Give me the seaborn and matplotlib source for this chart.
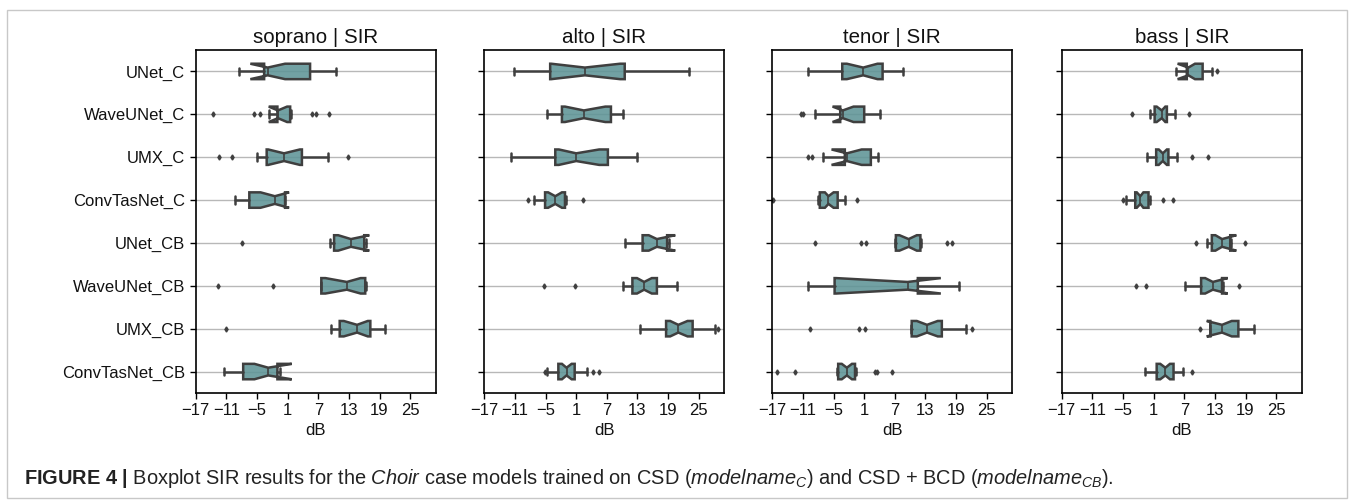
import matplotlib
matplotlib.use("Agg")
import matplotlib.pyplot as plt
import seaborn as sns
from matplotlib.patches import Rectangle

# ---------------- data (dB) ----------------
models = ["UNet_C", "WaveUNet_C", "UMX_C", "ConvTasNet_C",
          "UNet_CB", "WaveUNet_CB", "UMX_CB", "ConvTasNet_CB"]
voices = ["soprano", "alto", "tenor", "bass"]
xticks = [-17, -11, -5, 1, 7, 13, 19, 25]

# each tuple: (whislo, q1, cilo, med, cihi, q3, whishi)
soprano_stats = [(-8.6, -3.6, -6.3, -2.9, 0.5, 5.4, 10.5),
                 (-2.6, -1.0, -2.7, -0.9, 0.9, 1.5, 1.6),
                 (-4.9, -3.1, -2.8, 0.3, 3.4, 3.8, 8.9),
                 (-9.3, -6.5, -4.3, -1.5, 1.3, 0.5, 0.5),
                 (9.3, 10.1, 10.9, 13.4, 17.0, 16.0, 16.3),
                 (7.5, 7.6, 8.4, 12.6, 15.3, 16.2, 16.3),
                 (9.5, 11.2, 12.0, 14.6, 16.7, 17.2, 20.1),
                 (-11.4, -7.7, -5.5, -2.8, 1.8, -1.0, -0.4)]
soprano_fliers = [[], [-13.7, -5.6, -4.5, 5.7, 6.6, 9.1], [-12.4, -9.9, 12.9], [],
                  [-8.0], [-12.6, -1.8], [-11.1], []]

alto_stats = [(-11.2, -4.1, -3.9, 2.7, 9.6, 10.5, 23.1),
              (-4.8, -1.8, -1.2, 2.5, 6.7, 7.8, 10.1),
              (-11.8, -3.1, -2.4, 1.0, 5.5, 7.2, 12.9),
              (-7.2, -5.1, -4.5, -3.1, -1.8, -1.2, -1.0),
              (10.6, 14.0, 15.2, 16.8, 20.4, 18.8, 19.2),
              (10.1, 12.0, 12.9, 14.3, 15.8, 16.8, 20.7),
              (13.5, 18.6, 19.4, 21.0, 22.8, 23.8, 28.1),
              (-4.8, -2.5, -1.8, -0.9, 0.1, 0.7, 3.2)]
alto_fliers = [[], [], [], [-8.4, 2.3], [], [-5.4, 0.7], [28.8], [-5.2, 4.2, 5.5]]

tenor_stats = [(-10.1, -3.3, -2.4, 0.8, 3.6, 4.6, 8.5),
               (-8.6, -3.7, -5.2, -3.2, -1.1, 1.0, 4.0),
               (-7.0, -2.8, -5.4, -2.4, 0.5, 2.3, 3.7),
               (-8.0, -7.7, -6.7, -6.0, -5.0, -4.2, -2.8),
               (7.0, 7.2, 7.9, 9.7, 11.3, 12.0, 12.2),
               (-10.1, -4.8, -4.5, 9.5, 16.0, 11.5, 19.5),
               (10.1, 10.3, 11.3, 13.3, 15.4, 16.2, 21.0),
               (-4.3, -4.1, -3.4, -2.4, -1.4, -0.8, -0.6)]
tenor_fliers = [[], [-11.4, -10.9], [-10.1, -9.3], [-16.9, -0.5],
                [-8.6, 0.4, 1.4, 17.3, 18.2], [], [-9.7, 0.0, 1.2, 22.2],
                [-16.0, -12.6, 3.1, 3.6, 6.4]]

bass_stats = [(5.4, 7.5, 5.7, 7.8, 9.1, 10.6, 12.4),
              (0.3, 1.2, 1.6, 2.6, 3.3, 3.6, 5.2),
              (-0.3, 1.5, 2.0, 2.8, 3.6, 3.9, 5.5),
              (-4.5, -2.6, -2.3, -1.6, -1.0, 0.0, 0.2),
              (11.4, 12.4, 13.1, 14.4, 17.2, 16.0, 16.2),
              (7.1, 10.3, 11.1, 12.6, 15.5, 14.4, 14.6),
              (12.1, 12.1, 11.4, 14.4, 16.3, 17.6, 20.6),
              (-0.7, 1.6, 2.3, 3.3, 4.2, 4.9, 6.7)]
bass_fliers = [[13.5], [-3.3, 7.9], [8.5, 11.6], [-5.0, 2.9, 4.8],
               [9.3, 18.8], [-2.4, -0.5, 17.8], [10.0], [8.6]]

all_stats = [soprano_stats, alto_stats, tenor_stats, bass_stats]
all_fliers = [soprano_fliers, alto_fliers, tenor_fliers, bass_fliers]

# ---------------- style ----------------
sns.set_style("ticks")
plt.rcParams["font.family"] = ["Liberation Sans", "DejaVu Sans"]
plt.rcParams["mathtext.fontset"] = "custom"
plt.rcParams["mathtext.rm"] = "Liberation Sans"
plt.rcParams["mathtext.it"] = "Liberation Sans:italic"
plt.rcParams["mathtext.bf"] = "Liberation Sans:bold"

W, H = 1354, 501
fig = plt.figure(figsize=(W / 100, H / 100), dpi=100)

box_face = (0.37, 0.58, 0.59, 0.88)
edge = "#3f3f3f"
lefts = [195.7, 484.3, 772.3, 1061.7]
ax_w, ax_top, ax_bot = 240, 50, 393

for i, voice in enumerate(voices):
    ax = fig.add_axes([lefts[i] / W, 1 - ax_bot / H, ax_w / W, (ax_bot - ax_top) / H])
    bxpstats = []
    for (wl, q1, cl, md, ch, q3, wh), fl in zip(all_stats[i], all_fliers[i]):
        bxpstats.append(dict(whislo=wl, q1=q1, cilo=cl, med=md, cihi=ch,
                             q3=q3, whishi=wh, fliers=fl))
    ax.yaxis.grid(True, color="#b8b8b8", linewidth=1.0)
    ax.set_axisbelow(True)
    ax.bxp(bxpstats, positions=list(range(len(models))), widths=0.36,
           orientation="horizontal", shownotches=True, patch_artist=True,
           boxprops=dict(facecolor=box_face, edgecolor=edge, linewidth=1.8),
           whiskerprops=dict(color=edge, linewidth=1.8),
           capprops=dict(color=edge, linewidth=1.8),
           medianprops=dict(color=edge, linewidth=1.2),
           flierprops=dict(marker="d", markersize=2.6, markerfacecolor=edge,
                           markeredgecolor=edge))
    ax.set_xlim(-17, 30)
    ax.set_ylim(7.5, -0.5)
    ax.set_xticks(xticks)
    ax.set_xticklabels([str(t).replace("-", "\u2212") for t in xticks], fontsize=12)
    ax.set_yticks(range(len(models)))
    if i == 0:
        ax.set_yticklabels(models, fontsize=12)
    else:
        ax.set_yticklabels([])
    ax.tick_params(axis="both", length=4, width=1, color="black", labelcolor="#111111")
    for s in ax.spines.values():
        s.set_visible(True)
        s.set_color("black")
        s.set_linewidth(1.2)
    ax.set_xlabel("dB", fontsize=12, labelpad=3, color="#111111")
    ax.set_title(f"{voice} | SIR", fontsize=14.8, pad=5, color="#111111")

# outer frame
fig.patches.append(Rectangle((7 / W, 3 / H), (1347 - 7) / W, (491 - 3) / H,
                             transform=fig.transFigure, fill=False,
                             edgecolor="#c8c8c8", linewidth=1.0))

caption = (r"$\mathbf{FIGURE\ 4\ |}$ Boxplot SIR results for the $\mathit{Choir}$ case "
           r"models trained on CSD ($\mathit{modelname}_{C}$) and CSD + BCD "
           r"($\mathit{modelname}_{CB}$).")
fig.text(24 / W, 1 - 479 / H, caption, fontsize=14.4, ha="left", va="center",
         color="#222222")

fig.savefig("out.png", dpi=100)
